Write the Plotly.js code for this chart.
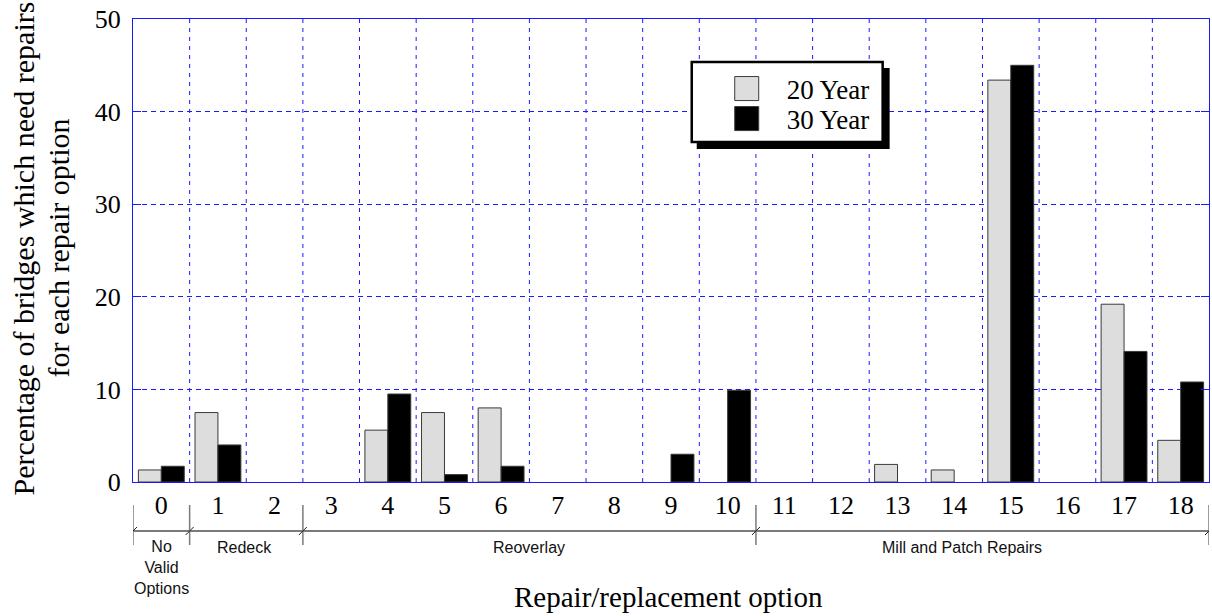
<!DOCTYPE html>
<html>
<head>
<meta charset="utf-8">
<script src="https://cdn.plot.ly/plotly-3.0.1.min.js"></script>
<style>html,body{margin:0;padding:0;background:#fff;}#chart{width:1212px;height:616px;}</style>
</head>
<body>
<div id="chart"></div>
<script>
// ---- data ----
const categories = ['0','1','2','3','4','5','6','7','8','9','10','11','12','13','14','15','16','17','18'];
const year20 = [1.3, 7.5, 0, 0, 5.6, 7.5, 8.0, 0, 0, 0, 0, 0, 0, 1.9, 1.3, 43.4, 0, 19.2, 4.5];
const year30 = [1.7, 4.0, 0, 0, 9.5, 0.8, 1.7, 0, 0, 3.0, 9.9, 0, 0, 0, 0, 45.0, 0, 14.1, 10.8];
const seriesNames = ['20 Year', '30 Year'];
const groupLabels = ['No<br>Valid<br>Options', 'Redeck', 'Reoverlay', 'Mill and Patch Repairs'];
const groupFirst = [0, 1, 3, 11];
const groupLast = [0, 2, 10, 18];
const yTickVals = [0, 10, 20, 30, 40, 50];
const yTitleLines = ['Percentage of bridges which need repairs', 'for each repair option'];
const xTitle = 'Repair/replacement option';

// ---- geometry helpers (layout only) ----
const L = 133, R = 2.5, T = 19, B = 134;
const W = 1212, H = 616;
const pw = W - L - R, ph = H - T - B;
const px2x = p => (p - L) / pw;
const py2y = p => (H - B - p) / ph;

const xs = categories.map((c, i) => i);
const serif = 'Liberation Serif, Times New Roman, serif';
const sans = 'Liberation Sans, Arial, sans-serif';
const blue = '#1a1aff';

const traces = [
  {type: 'bar', name: seriesNames[0], x: xs, y: year20, legend: 'legend',
   marker: {color: '#dcdddc', line: {color: '#3a3a3a', width: year20.map(v => v > 0 ? 1 : 0)}}},
  {type: 'bar', name: seriesNames[1], x: xs, y: year30, legend: 'legend2',
   marker: {color: '#000000', line: {color: '#3a3a3a', width: year30.map(v => v > 0 ? 1 : 0)}}}
];

const shapes = [];
// vertical grid lines at category boundaries
for (let i = 0; i < categories.length - 1; i++) {
  shapes.push({type: 'line', layer: 'below', xref: 'x', yref: 'paper', x0: i + 0.5, x1: i + 0.5, y0: 0, y1: 1,
    line: {color: blue, width: 1, dash: '4px,5px'}});
}
// legend box shadow + box
shapes.push({type: 'rect', layer: 'above', xref: 'paper', yref: 'paper',
  x0: px2x(697), x1: px2x(890), y0: py2y(149), y1: py2y(68), fillcolor: '#000', line: {width: 0}});
shapes.push({type: 'rect', layer: 'above', xref: 'paper', yref: 'paper',
  x0: px2x(692), x1: px2x(883), y0: py2y(142), y1: py2y(62), fillcolor: '#fff', line: {color: '#000', width: 2.5}});

// group brackets
const bracketY = py2y(531), tickTop = py2y(505), tickBot = py2y(545);
const gray = '#7a7a7a';
const bounds = new Set();
groupFirst.forEach((f, k) => { bounds.add(f - 0.5); bounds.add(groupLast[k] + 0.5); });
shapes.push({type: 'line', xref: 'x', yref: 'paper', x0: -0.5, x1: categories.length - 0.5, y0: bracketY, y1: bracketY,
  line: {color: gray, width: 2}});
bounds.forEach(b => {
  shapes.push({type: 'line', xref: 'x', yref: 'paper', x0: b, x1: b, y0: tickBot, y1: tickTop,
    line: {color: gray, width: 1.5}});
  shapes.push({type: 'line', xref: 'x', yref: 'paper', xsizemode: 'pixel', ysizemode: 'pixel',
    xanchor: b, yanchor: bracketY, x0: -4, x1: 4, y0: -4, y1: 4, line: {color: '#222', width: 1}});
});

const labelPos = [0, 1.46, 6.5, 14.13];
const annotations = groupLabels.map((t, k) => ({
  text: t, xref: 'x', yref: 'paper', x: labelPos[k], y: k === 0 ? py2y(567) : py2y(547),
  xanchor: 'center', yanchor: 'middle', showarrow: false, font: {family: sans, size: 16, color: '#111'}
}));
annotations.push({text: xTitle, xref: 'paper', yref: 'paper', x: px2x(669), y: py2y(597),
  xanchor: 'center', yanchor: 'middle', showarrow: false, font: {family: serif, size: 29, color: '#000'}});
const yTitleX = [23, 58];
yTitleLines.forEach((t, k) => annotations.push({text: t, xref: 'paper', yref: 'paper',
  x: px2x(yTitleX[k]), y: py2y(248.5), xanchor: 'center', yanchor: 'middle', textangle: -90, showarrow: false,
  font: {family: serif, size: 30, color: '#000'}}));

const legendCommon = {xanchor: 'left', yanchor: 'top', bgcolor: 'rgba(0,0,0,0)', borderwidth: 0, itemwidth: 70,
  font: {family: serif, size: 27, color: '#000'}, itemclick: false, itemdoubleclick: false};

const layout = {
  width: W, height: H,
  margin: {l: L, r: R, t: T, b: B},
  paper_bgcolor: '#fff', plot_bgcolor: '#fff',
  barmode: 'group', bargap: 0.19, bargroupgap: 0,
  showlegend: true,
  legend: Object.assign({x: px2x(707), y: py2y(64.5)}, legendCommon),
  legend2: Object.assign({x: px2x(707), y: py2y(94.5)}, legendCommon),
  xaxis: {range: [-0.5, categories.length - 0.5], tickmode: 'array', tickvals: xs, ticktext: categories,
    showgrid: false, zeroline: false, showline: true, mirror: true, linecolor: blue, linewidth: 1,
    ticks: '', tickfont: {family: serif, size: 26, color: '#000'}, fixedrange: true},
  yaxis: {range: [0, 50], tickmode: 'array', tickvals: yTickVals, showgrid: true, gridcolor: blue, griddash: '5px,4px',
    gridwidth: 1, zeroline: false, showline: true, mirror: 'ticks', linecolor: blue, linewidth: 1,
    ticks: 'inside', ticklen: 8, tickcolor: blue, tickfont: {family: serif, size: 26, color: '#000'},
    ticklabelstandoff: 6, fixedrange: true},
  shapes: shapes,
  annotations: annotations
};

Plotly.newPlot('chart', traces, layout, {displayModeBar: false, staticPlot: true}).then(() => {
  document.querySelectorAll('.legendpoints path').forEach(p => p.setAttribute('d', 'M12,12H-12V-12H12Z'));
});
</script>
</body>
</html>
